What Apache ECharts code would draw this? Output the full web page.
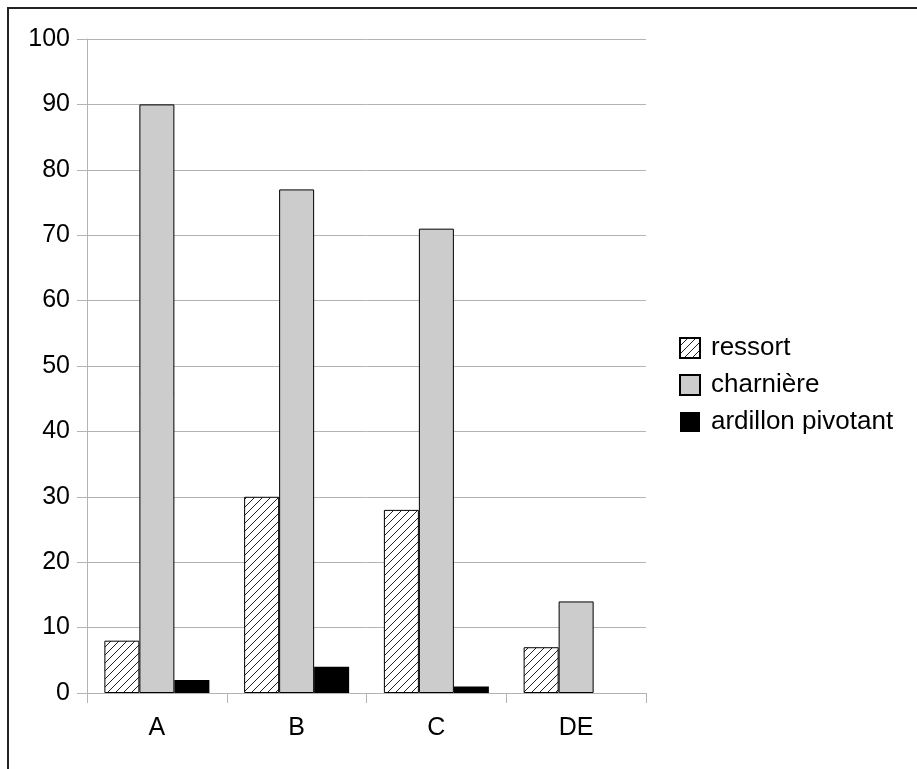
<!DOCTYPE html>
<html>
<head>
<meta charset="utf-8">
<script src="https://cdn.jsdelivr.net/npm/echarts@6/dist/echarts.min.js"></script>
<style>html,body{margin:0;padding:0;background:#fff}#c{width:917px;height:769px}</style>
</head>
<body>
<div id="c"></div>
<script>
var categories = ['A', 'B', 'C', 'DE'];
var ressort = [8, 30, 28, 7];
var charniere = [90, 77, 71, 14];
var ardillon = [2, 4, 1, 0];
var yTicks = [0, 10, 20, 30, 40, 50, 60, 70, 80, 90, 100];

function hatch() {
  var c = document.createElement('canvas');
  c.width = 8; c.height = 8;
  var g = c.getContext('2d');
  g.fillStyle = '#fff'; g.fillRect(0, 0, 8, 8);
  g.strokeStyle = '#222'; g.lineWidth = 1;
  g.beginPath();
  g.moveTo(0, 8); g.lineTo(8, 0);
  g.moveTo(-4, 4); g.lineTo(4, -4);
  g.moveTo(4, 12); g.lineTo(12, 4);
  g.stroke();
  return c;
}

var chart = echarts.init(document.getElementById('c'));
var font = 'Liberation Sans, Arial, sans-serif';
chart.setOption({
  animation: false,
  textStyle: { fontFamily: font },
  graphic: [{
    type: 'rect', shape: { x: 8, y: 8, width: 1200, height: 1200 },
    style: { fill: 'none', stroke: '#222', lineWidth: 2 }, z: 100
  }],
  grid: { left: 87, top: 39, right: 271, bottom: 76 },
  legend: {
    orient: 'vertical', left: 674, top: 330,
    itemWidth: 20, itemHeight: 20, itemGap: 11,
    icon: 'rect',
    textStyle: { fontSize: 26, color: '#000', fontFamily: font, padding: [0, 0, 0, 6] },
    data: ['ressort', 'charnière', 'ardillon pivotant']
  },
  xAxis: {
    type: 'category', data: categories,
    axisLine: { lineStyle: { color: '#b3b3b3' } },
    axisTick: { show: true, length: 10, lineStyle: { color: '#b3b3b3' } },
    axisLabel: { fontSize: 25, color: '#000', margin: 23, fontFamily: font }
  },
  yAxis: {
    type: 'value', min: 0, max: 100, interval: 10,
    axisLine: { show: true, lineStyle: { color: '#b3b3b3' } },
    axisTick: { show: true, length: 10, lineStyle: { color: '#b3b3b3' } },
    splitLine: { lineStyle: { color: '#b3b3b3' } },
    axisLabel: { fontSize: 25, color: '#000', margin: 17, fontFamily: font,
      formatter: function (v) { return yTicks.indexOf(v) >= 0 ? String(v) : ''; } }
  },
  series: [
    { name: 'ressort', type: 'bar', data: ressort, barWidth: 35, barGap: '0%',
      itemStyle: { color: { image: hatch(), repeat: 'repeat' }, borderColor: '#000', borderWidth: 1 } },
    { name: 'charnière', type: 'bar', data: charniere, barWidth: 35, barGap: '0%',
      itemStyle: { color: '#cccccc', borderColor: '#000', borderWidth: 1 } },
    { name: 'ardillon pivotant', type: 'bar', data: ardillon, barWidth: 35, barGap: '0%',
      itemStyle: { color: '#000', borderWidth: 0 } }
  ]
});
</script>
</body>
</html>
